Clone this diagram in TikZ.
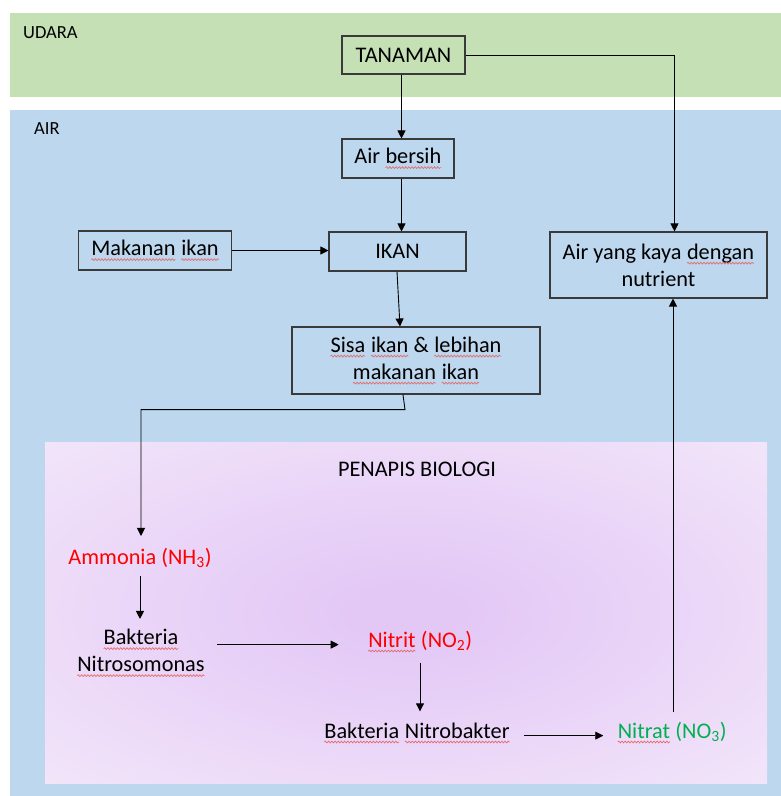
\documentclass[tikz,border=0pt]{standalone}
\usepackage{fontspec}
\setmainfont{Carlito}
\usetikzlibrary{arrows.meta,calc,decorations.pathmorphing}
\definecolor{udara}{HTML}{C5E0B4}
\definecolor{airbg}{HTML}{BDD7EE}
\definecolor{penin}{HTML}{E3C8F6}
\definecolor{penout}{HTML}{F4E9FA}
\definecolor{boxline}{HTML}{3A3A3A}
\definecolor{redtxt}{HTML}{FF0000}
\definecolor{greentxt}{HTML}{00B050}
\definecolor{squig}{HTML}{E46C6C}

% soft radial glow for the filter panel
\pgfdeclareradialshading{penapisglow}{\pgfpoint{0bp}{0bp}}{%
  color(0bp)=(penin); color(4bp)=(penin); color(40bp)=(penout); color(50bp)=(penout)}

\tikzset{
  wavestyle/.style={squig, line width=0.7pt, decorate,
    decoration={snake, amplitude=0.9pt, segment length=3.2pt}},
  procbox/.style={draw=boxline, line width=1.1pt, align=center, inner sep=0pt,
    font=\fontsize{22.3}{27}\selectfont},
  txt/.style={inner sep=0pt, anchor=base, align=center,
    font=\fontsize{22.3}{27}\selectfont},
  zone/.style={inner sep=0pt, anchor=base west, font=\fontsize{18.5}{22}\selectfont},
  arr/.style={black, line width=0.9pt, -{Triangle[length=8pt,width=8pt]}},
  plainword/.style={inner sep=0pt, outer sep=0pt, anchor=base, draw=none, fill=none,
    minimum width=0pt, minimum height=0pt, align=left},
}

% word with a wavy underline
\newcommand\wavy[1]{\tikz[baseline=(w.base)]{%
  \node[plainword] (w) {#1};%
  \draw[wavestyle] ([yshift=-4pt]w.base west) -- ([yshift=-4pt]w.base east);}}

\begin{document}
\begin{tikzpicture}[x=1pt, y=-1pt]
  \useasboundingbox (0,0) rectangle (781,796);
  \fill[white] (0,0) rectangle (781,796);

  % zones
  \fill[udara] (10,13) rectangle (781,97);
  \fill[airbg] (10,110) rectangle (781,796);
  \shade[shading=penapisglow] (45,442) rectangle (767,783);

  \node[zone] (udaralbl) at (23,38) {UDARA};
  \node[zone] (airlbl) at (34,134) {AIR};
  \node[txt] (penapis) at (417,476) {PENAPIS BIOLOGI};

  % boxes
  \node[procbox, minimum width=123pt, minimum height=38pt] (tan) at (403.5,55) {TANAMAN};
  \node[procbox, minimum width=112pt, minimum height=39pt] (ab) at (398,158.5) {Air \wavy{bersih}};
  \node[procbox, minimum width=137pt, minimum height=39pt] (ikan) at (397.5,251.5) {IKAN};
  \node[procbox, minimum width=153pt, minimum height=39pt] (mak) at (155,250.5) {\wavy{Makanan} \wavy{ikan}};
  \node[procbox, minimum width=248pt, minimum height=67pt] (sisa) at (416,360.5)
    {\wavy{Sisa} \wavy{ikan} \& \wavy{lebihan}\\\wavy{makanan} \wavy{ikan}};
  \node[procbox, minimum width=217pt, minimum height=66pt] (kaya) at (658.5,265)
    {Air yang kaya \wavy{dengan}\\nutrient};

  % nitrogen cycle
  \node[txt, text=redtxt] (amm) at (140,564) {Ammonia (NH\textsubscript{3})};
  \node[txt, anchor=center] (nitroso) at (141,653) {\wavy{Bakteria}\\\wavy{Nitrosomonas}};
  \node[txt, text=redtxt] (nitrit) at (420,647) {\wavy{Nitrit} (NO\textsubscript{2})};
  \node[txt] (nitrob) at (417,738) {\wavy{Bakteria} \wavy{Nitrobakter}};
  \node[txt, text=greentxt] (nitrat) at (672,738) {\wavy{Nitrat} (NO\textsubscript{3})};

  % connectors
  \draw[arr] ($(tan.south)+(-2,0)$) -- ($(tan.south |- ab.north)+(-2,0)$);
  \draw[arr] ($(ab.south)+(3.5,0)$) -- ($(ab.south |- ikan.north)+(3.5,0)$);
  \draw[arr] (tan.east) -| ($(kaya.north)+(16,0)$);
  \draw[arr] (mak.east) -- (mak.east -| ikan.west);
  \draw[arr] ($(ikan.south)+(-0.5,0)$) -- ($(sisa.north)+(-16,0)$);
  \draw[arr] ($(sisa.south)+(-13,0)$) -- ($(sisa.south)+(-11,15)$) -| ($(amm.north)+(1,-11.5)$);
  \draw[arr] ($(amm.south)+(0,9)$) -- ($(amm.south |- nitroso.north)+(0,-10)$);
  \draw[arr] ($(nitroso.east |- nitrit.mid)+(12,0)$) -- ($(nitrit.west |- nitrit.mid)+(-29,0)$);
  \draw[arr] ($(nitrit.south)+(0,10.5)$) -- ($(nitrit.south |- nitrob.north)+(0,-11)$);
  \draw[arr] ($(nitrob.east |- nitrat.mid)+(14,0)$) -- ($(nitrat.west |- nitrat.mid)+(-14,0)$);
  \draw[arr] ($(nitrat.north)+(1,-9.5)$) -- ($(nitrat.north |- kaya.south)+(1,0)$);
\end{tikzpicture}
\end{document}
